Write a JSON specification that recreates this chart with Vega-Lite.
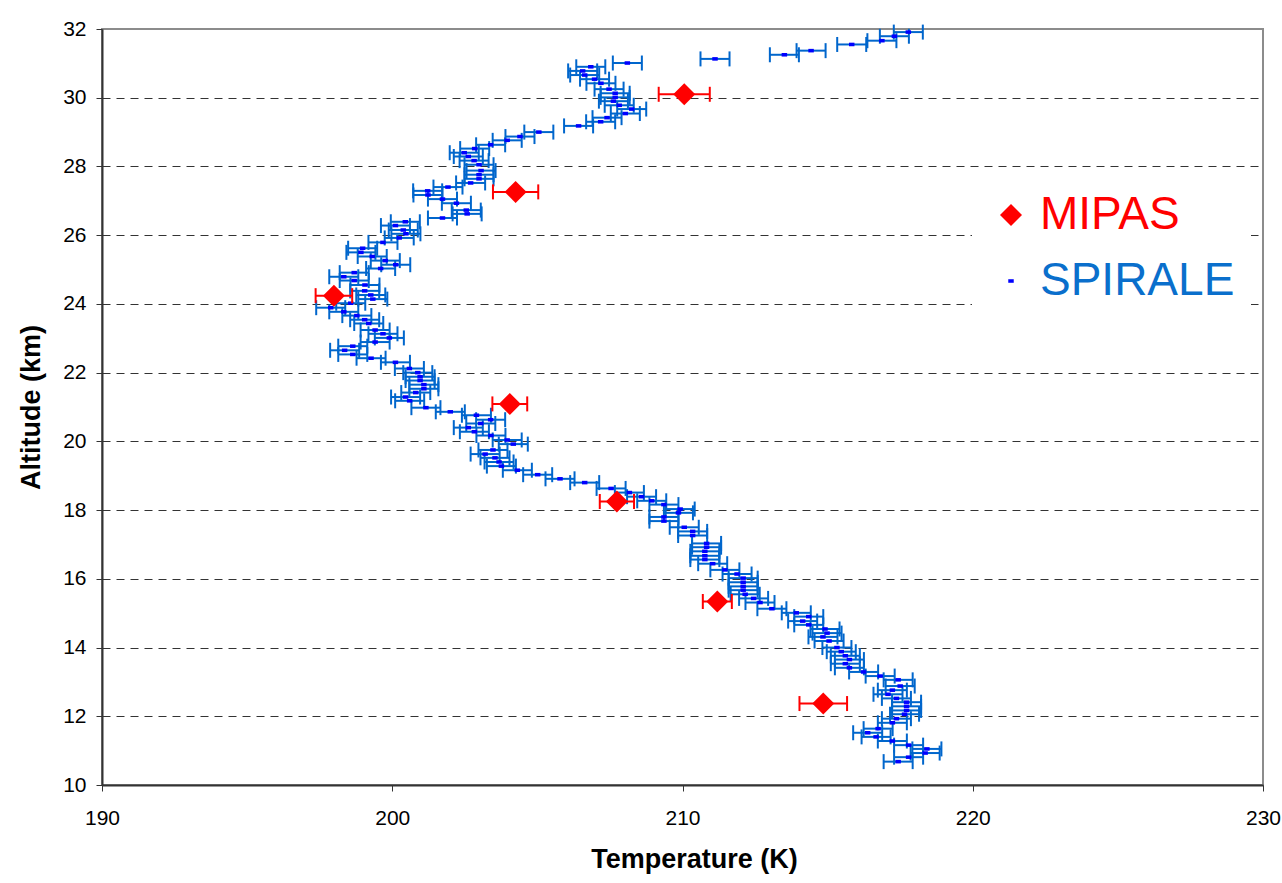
{
  "$schema": "https://vega.github.io/schema/vega-lite/v6.json",
  "width": 1161,
  "height": 756,
  "autosize": {"type": "none"},
  "padding": {"left": 102, "top": 29, "right": 19, "bottom": 98},
  "background": "white",
  "config": {
    "font": "Liberation Sans",
    "view": {"stroke": "#8c8c8c", "strokeWidth": 2}
  },
  "datasets": {
    "spirale": [
      {"T": 217.78, "alt": 31.91, "err": 0.5}, {"T": 217.30, "alt": 31.79, "err": 0.5}, {"T": 216.87, "alt": 31.66, "err": 0.5},
      {"T": 215.83, "alt": 31.55, "err": 0.5}, {"T": 214.43, "alt": 31.37, "err": 0.5}, {"T": 213.51, "alt": 31.25, "err": 0.5},
      {"T": 211.12, "alt": 31.13, "err": 0.5}, {"T": 208.10, "alt": 31.01, "err": 0.5}, {"T": 206.84, "alt": 30.90, "err": 0.5},
      {"T": 206.56, "alt": 30.78, "err": 0.5}, {"T": 206.63, "alt": 30.66, "err": 0.5}, {"T": 206.97, "alt": 30.54, "err": 0.5},
      {"T": 207.19, "alt": 30.42, "err": 0.5}, {"T": 207.47, "alt": 30.25, "err": 0.5}, {"T": 207.68, "alt": 30.13, "err": 0.5},
      {"T": 207.68, "alt": 30.01, "err": 0.5}, {"T": 207.62, "alt": 29.90, "err": 0.5}, {"T": 207.82, "alt": 29.78, "err": 0.5},
      {"T": 208.25, "alt": 29.67, "err": 0.5}, {"T": 208.03, "alt": 29.54, "err": 0.5}, {"T": 207.40, "alt": 29.42, "err": 0.5},
      {"T": 207.18, "alt": 29.30, "err": 0.5}, {"T": 206.42, "alt": 29.18, "err": 0.5}, {"T": 205.05, "alt": 29.00, "err": 0.5},
      {"T": 204.40, "alt": 28.87, "err": 0.5}, {"T": 203.96, "alt": 28.76, "err": 0.5}, {"T": 203.39, "alt": 28.63, "err": 0.5},
      {"T": 202.84, "alt": 28.52, "err": 0.5}, {"T": 202.48, "alt": 28.40, "err": 0.5}, {"T": 202.62, "alt": 28.29, "err": 0.5},
      {"T": 202.82, "alt": 28.17, "err": 0.5}, {"T": 202.99, "alt": 28.05, "err": 0.5}, {"T": 203.06, "alt": 27.88, "err": 0.5},
      {"T": 202.99, "alt": 27.76, "err": 0.5}, {"T": 202.99, "alt": 27.64, "err": 0.5}, {"T": 202.70, "alt": 27.52, "err": 0.5},
      {"T": 201.92, "alt": 27.40, "err": 0.5}, {"T": 201.22, "alt": 27.29, "err": 0.5}, {"T": 201.23, "alt": 27.17, "err": 0.5},
      {"T": 201.73, "alt": 27.05, "err": 0.5}, {"T": 202.21, "alt": 26.93, "err": 0.5}, {"T": 202.55, "alt": 26.73, "err": 0.5},
      {"T": 202.58, "alt": 26.62, "err": 0.5}, {"T": 201.73, "alt": 26.50, "err": 0.5}, {"T": 200.45, "alt": 26.39, "err": 0.5},
      {"T": 200.11, "alt": 26.28, "err": 0.5}, {"T": 200.38, "alt": 26.15, "err": 0.5}, {"T": 200.47, "alt": 26.04, "err": 0.5},
      {"T": 200.24, "alt": 25.92, "err": 0.5}, {"T": 199.68, "alt": 25.79, "err": 0.5}, {"T": 198.98, "alt": 25.62, "err": 0.5},
      {"T": 198.92, "alt": 25.50, "err": 0.5}, {"T": 199.31, "alt": 25.38, "err": 0.5}, {"T": 199.76, "alt": 25.26, "err": 0.5},
      {"T": 200.12, "alt": 25.14, "err": 0.5}, {"T": 199.60, "alt": 25.03, "err": 0.5}, {"T": 198.69, "alt": 24.91, "err": 0.5},
      {"T": 198.33, "alt": 24.79, "err": 0.5}, {"T": 198.69, "alt": 24.68, "err": 0.5}, {"T": 199.06, "alt": 24.55, "err": 0.5},
      {"T": 199.05, "alt": 24.38, "err": 0.5}, {"T": 199.26, "alt": 24.26, "err": 0.5}, {"T": 199.33, "alt": 24.14, "err": 0.5},
      {"T": 198.57, "alt": 24.02, "err": 0.5}, {"T": 197.88, "alt": 23.89, "err": 0.5}, {"T": 198.33, "alt": 23.77, "err": 0.5},
      {"T": 198.78, "alt": 23.66, "err": 0.5}, {"T": 199.05, "alt": 23.54, "err": 0.5}, {"T": 199.19, "alt": 23.43, "err": 0.5},
      {"T": 199.41, "alt": 23.24, "err": 0.5}, {"T": 199.68, "alt": 23.13, "err": 0.5}, {"T": 199.90, "alt": 23.01, "err": 0.5},
      {"T": 199.41, "alt": 22.89, "err": 0.5}, {"T": 198.64, "alt": 22.77, "err": 0.5}, {"T": 198.36, "alt": 22.65, "err": 0.5},
      {"T": 198.64, "alt": 22.53, "err": 0.5}, {"T": 199.27, "alt": 22.42, "err": 0.5}, {"T": 200.11, "alt": 22.30, "err": 0.5},
      {"T": 200.59, "alt": 22.12, "err": 0.5}, {"T": 200.88, "alt": 22.00, "err": 0.5}, {"T": 200.96, "alt": 21.88, "err": 0.5},
      {"T": 200.96, "alt": 21.77, "err": 0.5}, {"T": 201.09, "alt": 21.65, "err": 0.5}, {"T": 201.09, "alt": 21.53, "err": 0.5},
      {"T": 200.81, "alt": 21.42, "err": 0.5}, {"T": 200.46, "alt": 21.29, "err": 0.5}, {"T": 200.60, "alt": 21.18, "err": 0.5},
      {"T": 201.16, "alt": 20.98, "err": 0.5}, {"T": 202.00, "alt": 20.86, "err": 0.5}, {"T": 202.90, "alt": 20.76, "err": 0.5},
      {"T": 203.39, "alt": 20.63, "err": 0.5}, {"T": 203.05, "alt": 20.52, "err": 0.5}, {"T": 202.62, "alt": 20.40, "err": 0.5},
      {"T": 202.83, "alt": 20.28, "err": 0.5}, {"T": 203.40, "alt": 20.17, "err": 0.5}, {"T": 203.96, "alt": 20.04, "err": 0.5},
      {"T": 204.17, "alt": 19.92, "err": 0.5}, {"T": 203.47, "alt": 19.75, "err": 0.5}, {"T": 203.20, "alt": 19.63, "err": 0.5},
      {"T": 203.54, "alt": 19.52, "err": 0.5}, {"T": 203.68, "alt": 19.40, "err": 0.5}, {"T": 203.76, "alt": 19.28, "err": 0.5},
      {"T": 204.31, "alt": 19.16, "err": 0.5}, {"T": 205.01, "alt": 19.03, "err": 0.5}, {"T": 205.78, "alt": 18.91, "err": 0.5},
      {"T": 206.63, "alt": 18.80, "err": 0.5}, {"T": 207.54, "alt": 18.63, "err": 0.5}, {"T": 208.17, "alt": 18.51, "err": 0.5},
      {"T": 208.59, "alt": 18.39, "err": 0.5}, {"T": 208.94, "alt": 18.27, "err": 0.5}, {"T": 209.36, "alt": 18.16, "err": 0.5},
      {"T": 209.92, "alt": 18.03, "err": 0.5}, {"T": 209.86, "alt": 17.92, "err": 0.5}, {"T": 209.36, "alt": 17.80, "err": 0.5},
      {"T": 209.36, "alt": 17.68, "err": 0.5}, {"T": 210.06, "alt": 17.50, "err": 0.5}, {"T": 210.35, "alt": 17.38, "err": 0.5},
      {"T": 210.35, "alt": 17.26, "err": 0.5}, {"T": 210.83, "alt": 17.03, "err": 0.5}, {"T": 210.83, "alt": 16.92, "err": 0.5},
      {"T": 210.77, "alt": 16.80, "err": 0.5}, {"T": 210.77, "alt": 16.67, "err": 0.5}, {"T": 210.77, "alt": 16.56, "err": 0.5},
      {"T": 211.04, "alt": 16.44, "err": 0.5}, {"T": 211.46, "alt": 16.26, "err": 0.5}, {"T": 211.88, "alt": 16.14, "err": 0.5},
      {"T": 212.09, "alt": 16.02, "err": 0.5}, {"T": 212.09, "alt": 15.90, "err": 0.5}, {"T": 212.09, "alt": 15.78, "err": 0.5},
      {"T": 212.09, "alt": 15.67, "err": 0.5}, {"T": 212.16, "alt": 15.55, "err": 0.5}, {"T": 212.45, "alt": 15.43, "err": 0.5},
      {"T": 212.67, "alt": 15.31, "err": 0.5}, {"T": 213.08, "alt": 15.13, "err": 0.5}, {"T": 213.92, "alt": 15.01, "err": 0.5},
      {"T": 214.35, "alt": 14.90, "err": 0.5}, {"T": 214.14, "alt": 14.77, "err": 0.5}, {"T": 214.35, "alt": 14.66, "err": 0.5},
      {"T": 214.91, "alt": 14.54, "err": 0.5}, {"T": 214.98, "alt": 14.42, "err": 0.5}, {"T": 214.84, "alt": 14.31, "err": 0.5},
      {"T": 215.05, "alt": 14.19, "err": 0.5}, {"T": 215.32, "alt": 14.00, "err": 0.5}, {"T": 215.47, "alt": 13.88, "err": 0.5},
      {"T": 215.61, "alt": 13.76, "err": 0.5}, {"T": 215.75, "alt": 13.65, "err": 0.5}, {"T": 215.61, "alt": 13.53, "err": 0.5},
      {"T": 215.75, "alt": 13.41, "err": 0.5}, {"T": 216.24, "alt": 13.29, "err": 0.5}, {"T": 216.81, "alt": 13.17, "err": 0.5},
      {"T": 217.43, "alt": 13.06, "err": 0.5}, {"T": 217.50, "alt": 12.88, "err": 0.5}, {"T": 217.23, "alt": 12.76, "err": 0.5},
      {"T": 217.08, "alt": 12.64, "err": 0.5}, {"T": 217.37, "alt": 12.52, "err": 0.5}, {"T": 217.72, "alt": 12.41, "err": 0.5},
      {"T": 217.72, "alt": 12.29, "err": 0.5}, {"T": 217.72, "alt": 12.17, "err": 0.5}, {"T": 217.65, "alt": 12.06, "err": 0.5},
      {"T": 217.37, "alt": 11.93, "err": 0.5}, {"T": 217.23, "alt": 11.81, "err": 0.5}, {"T": 216.74, "alt": 11.64, "err": 0.5},
      {"T": 216.38, "alt": 11.52, "err": 0.5}, {"T": 216.67, "alt": 11.40, "err": 0.5}, {"T": 217.23, "alt": 11.28, "err": 0.5},
      {"T": 217.79, "alt": 11.16, "err": 0.5}, {"T": 218.42, "alt": 11.05, "err": 0.5}, {"T": 218.36, "alt": 10.93, "err": 0.5},
      {"T": 217.79, "alt": 10.81, "err": 0.5}, {"T": 217.43, "alt": 10.68, "err": 0.5}
    ],
    "mipas": [
      {"T": 210.06, "alt": 30.10, "err": 0.88},
      {"T": 204.25, "alt": 27.26, "err": 0.78},
      {"T": 197.99, "alt": 24.24, "err": 0.63},
      {"T": 204.05, "alt": 21.09, "err": 0.60},
      {"T": 207.74, "alt": 18.25, "err": 0.59},
      {"T": 211.20, "alt": 15.34, "err": 0.50},
      {"T": 214.85, "alt": 12.37, "err": 0.82}
    ]
  },
  "encoding": {
    "x": {
      "field": "T", "type": "quantitative",
      "scale": {"domain": [190, 230], "nice": false, "zero": false},
      "axis": {
        "title": "Temperature (K)",
        "values": [190, 200, 210, 220, 230],
        "grid": false,
        "domainColor": "#333333", "domainWidth": 2,
        "tickColor": "#333333", "tickSize": 6, "tickWidth": 1,
        "labelFontSize": 21, "labelColor": "black", "labelPadding": 16, "labelFlush": false,
        "titleFontSize": 27, "titleFontWeight": "bold", "titleColor": "black", "titlePadding": 18,
        "titleX": 592
      }
    },
    "y": {
      "field": "alt", "type": "quantitative",
      "scale": {"domain": [10, 32], "nice": false, "zero": false},
      "axis": {
        "title": "Altitude (km)",
        "values": [10, 12, 14, 16, 18, 20, 22, 24, 26, 28, 30, 32],
        "grid": true,
        "gridColor": "#333333",
        "gridWidth": 1,
        "gridDash": [8, 6],
        "gridOpacity": {"condition": {"test": "datum.value === 10 || datum.value === 32", "value": 0}, "value": 1},
        "domainColor": "#333333", "domainWidth": 2,
        "tickColor": "#333333", "tickSize": 6, "tickWidth": 1,
        "labelFontSize": 21, "labelColor": "black", "labelPadding": 10, "labelFlush": false,
        "titleFontSize": 27, "titleFontWeight": "bold", "titleColor": "black", "titlePadding": 17
      }
    }
  },
  "layer": [
    {
      "data": {"name": "spirale"},
      "mark": {"type": "errorbar", "color": "#0066cc", "opacity": 1, "thickness": 2, "rule": {"opacity": 1}, "ticks": {"size": 15, "thickness": 2, "opacity": 1}},
      "encoding": {
        "xError": {"field": "err"}
      }
    },
    {
      "data": {"name": "spirale"},
      "mark": {"type": "point", "filled": true, "strokeWidth": 0, "opacity": 1},
      "encoding": {
        "color": {"datum": "SPIRALE", "type": "nominal"},
        "shape": {"datum": "SPIRALE", "type": "nominal"},
        "size": {"datum": "SPIRALE", "type": "nominal"}
      }
    },
    {
      "data": {"name": "mipas"},
      "mark": {"type": "errorbar", "color": "#ff0000", "opacity": 1, "thickness": 2, "rule": {"opacity": 1}, "ticks": {"size": 15, "thickness": 2, "opacity": 1}},
      "encoding": {
        "xError": {"field": "err"}
      }
    },
    {
      "data": {"name": "mipas"},
      "mark": {"type": "point", "filled": true, "strokeWidth": 0, "opacity": 1},
      "encoding": {
        "color": {
          "datum": "MIPAS", "type": "nominal",
          "scale": {"domain": ["MIPAS", "SPIRALE"], "range": ["#ff0000", "#0000ff"]},
          "legend": {
            "orient": "none", "legendX": 870, "legendY": 147,
            "title": null, "fillColor": "white", "padding": 16,
            "labelFontSize": 46, "labelOffset": 6, "rowPadding": 20, "labelLimit": 0,
            "symbolStrokeWidth": 0,
            "labelColor": {"expr": "datum.label === 'MIPAS' ? '#ff0000' : '#0a6fcc'"}
          }
        },
        "shape": {
          "datum": "MIPAS", "type": "nominal",
          "scale": {"domain": ["MIPAS", "SPIRALE"], "range": ["diamond", "M-1,-0.65L1,-0.65L1,0.65L-1,0.65Z"]}
        },
        "size": {
          "datum": "MIPAS", "type": "nominal",
          "scale": {"domain": ["MIPAS", "SPIRALE"], "range": [484, 30]}
        }
      }
    }
  ]
}
